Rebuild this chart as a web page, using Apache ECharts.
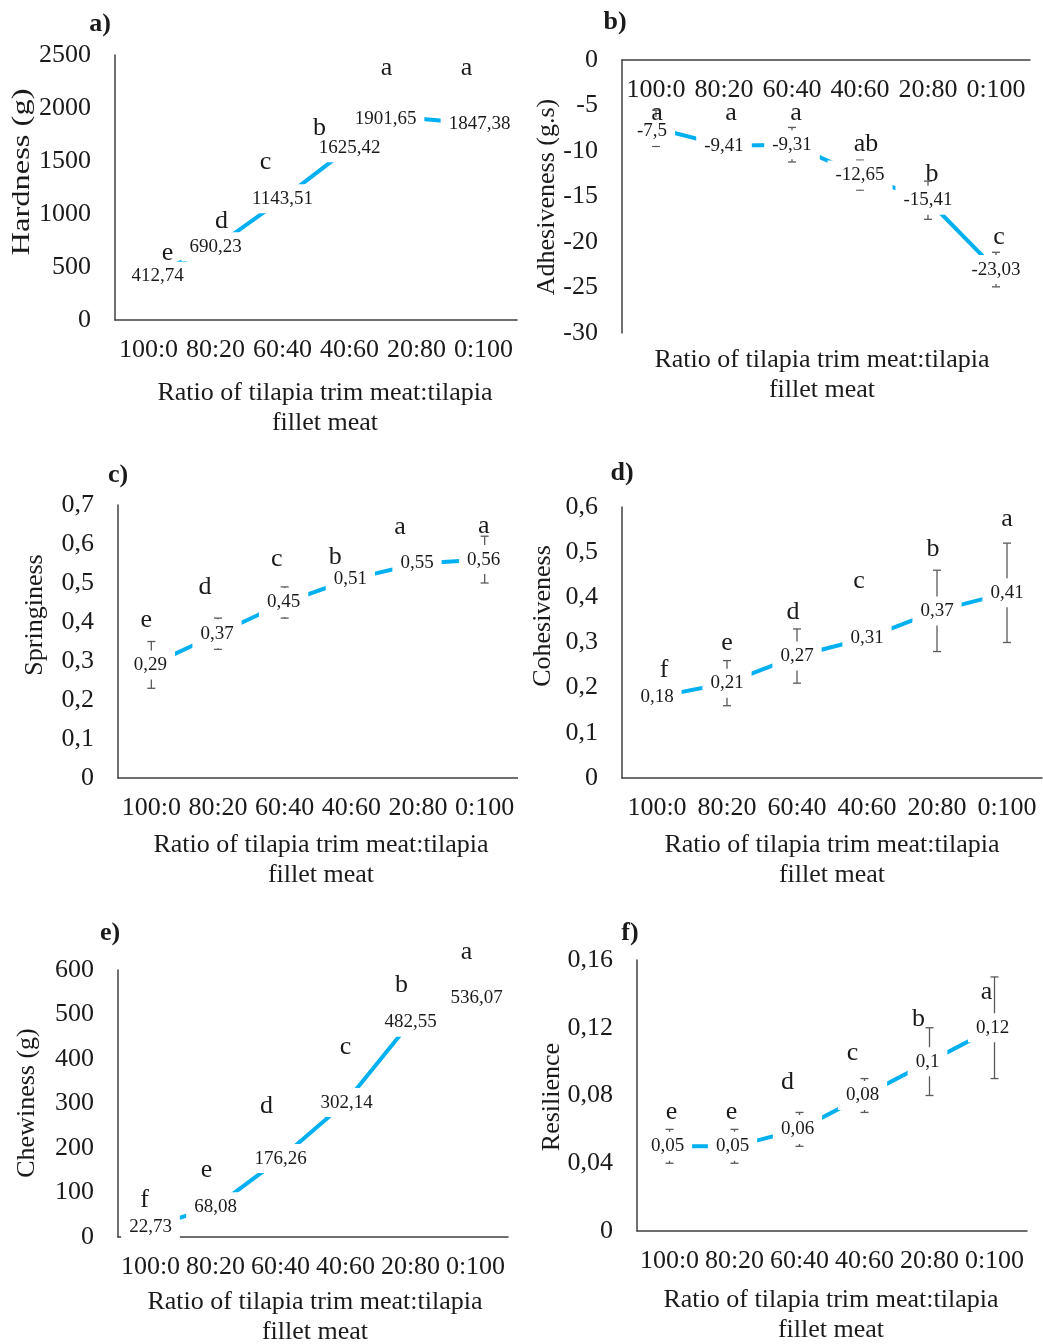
<!DOCTYPE html>
<html>
<head>
<meta charset="utf-8">
<script src="https://cdn.jsdelivr.net/npm/echarts/dist/echarts.min.js"></script>
<style>
  body { margin: 0; background: #fff; }
  .panel { position: absolute; overflow: hidden; }
</style>
</head>
<body>
<div id="pa" class="panel"></div>
<div id="pb" class="panel"></div>
<div id="pc" class="panel"></div>
<div id="pd" class="panel"></div>
<div id="pe" class="panel"></div>
<div id="pf" class="panel"></div>
<script>
const categories = ['100:0', '80:20', '60:40', '40:60', '20:80', '0:100'];

// a) hardness (g)
const hardness = [412.74, 690.23, 1143.51, 1625.42, 1901.65, 1847.38];
const hardnessSd = [0, 0, 0, 0, 45, 0];
const hardnessLetters = ['e', 'd', 'c', 'b', 'a', 'a'];
const hardnessTicks = [0, 500, 1000, 1500, 2000, 2500];

// b) adhesiveness (g.s)
const adhesiveness = [-7.5, -9.41, -9.31, -12.65, -15.41, -23.03];
const adhesivenessSd = [2.0, 0.6, 1.9, 1.65, 2.1, 1.9];
const adhesivenessLetters = ['a', 'a', 'a', 'ab', 'b', 'c'];
const adhesivenessTicks = [-30, -25, -20, -15, -10, -5, 0];

// c) springiness
const springiness = [0.29, 0.37, 0.45, 0.51, 0.55, 0.56];
const springinessSd = [0.06, 0.04, 0.04, 0.02, 0.02, 0.06];
const springinessLetters = ['e', 'd', 'c', 'b', 'a', 'a'];
const springinessTicks = [0, 0.1, 0.2, 0.3, 0.4, 0.5, 0.6, 0.7];

// d) cohesiveness
const cohesiveness = [0.18, 0.21, 0.27, 0.31, 0.37, 0.41];
const cohesivenessSd = [0.01, 0.05, 0.06, 0.01, 0.09, 0.11];
const cohesivenessLetters = ['f', 'e', 'd', 'c', 'b', 'a'];
const cohesivenessTicks = [0, 0.1, 0.2, 0.3, 0.4, 0.5, 0.6];

// e) chewiness (g)
const chewiness = [22.73, 68.08, 176.26, 302.14, 482.55, 536.07];
const chewinessSd = [0, 0, 0, 0, 0, 0];
const chewinessLetters = ['f', 'e', 'd', 'c', 'b', 'a'];
const chewinessTicks = [0, 100, 200, 300, 400, 500, 600];

// f) resilience
const resilience = [0.05, 0.05, 0.06, 0.08, 0.1, 0.12];
const resilienceSd = [0.01, 0.01, 0.01, 0.01, 0.02, 0.03];
const resilienceLetters = ['e', 'e', 'd', 'c', 'b', 'a'];
const resilienceTicks = [0, 0.04, 0.08, 0.12, 0.16];

const xTitle = 'Ratio of tilapia trim meat:tilapia\nfillet meat';

// layout (page pixels): box = clipping div, plot = [x0, y0, x1, y1] of the axes
const panels = [
  { id: 'pa', box: [0, 0, 520, 445], plot: [115, 55, 517, 320], xTop: false,
    title: 'a)', titlePos: [100, 24], yName: 'Hardness (g)', yNamePos: [22, 172], yNameScale: 1.25,
    xNamePos: [325, 393], values: hardness, sd: hardnessSd, letters: hardnessLetters, ticks: hardnessTicks,
    labelShift: [[9, 0], [0, 0], [0, 0], [0, 0], [-31, 1], [-4, 0]],
    letterShift: [[19, -23], [6, -26], [-17, -37], [-30, -20], [-30, -50], [-17, -56]] },
  { id: 'pb', box: [520, 0, 523, 445], plot: [622, 60, 1030, 333], xTop: true,
    title: 'b)', titlePos: [615, 22], yName: 'Adhesiveness (g.s)', yNamePos: [547, 197], yNameScale: 1,
    xNamePos: [822, 360], values: adhesiveness, sd: adhesivenessSd, letters: adhesivenessLetters, ticks: adhesivenessTicks,
    labelShift: [[-4, 3], [0, 0], [0, 0], [0, 0], [0, 0], [0, 0]],
    letterShift: [[1, -15], [7, -32], [4, -32], [6, -31], [4, -26], [3, -32]] },
  { id: 'pc', box: [0, 445, 518, 460], plot: [118, 505, 526, 778], xTop: false,
    title: 'c)', titlePos: [118, 475], yName: 'Springiness', yNamePos: [35, 615], yNameScale: 1,
    xNamePos: [321, 845], values: springiness, sd: springinessSd, letters: springinessLetters, ticks: springinessTicks,
    labelShift: [[-1, 0], [-1, 0], [-1, 0], [-1, 0], [-1, 0], [-1, 0]],
    letterShift: [[-5, -45], [-13, -47], [-8, -43], [-16, -22], [-18, -36], [-1, -33]] },
  { id: 'pd', box: [520, 445, 523, 460], plot: [622, 507, 1042, 778], xTop: false,
    title: 'd)', titlePos: [622, 473], yName: 'Cohesiveness', yNamePos: [543, 616], yNameScale: 1,
    xNamePos: [832, 845], values: cohesiveness, sd: cohesivenessSd, letters: cohesivenessLetters, ticks: cohesivenessTicks,
    labelShift: [[0, 0], [0, 0], [0, 0], [0, 0], [0, 0], [0, 0]],
    letterShift: [[7, -27], [0, -40], [-4, -44], [-8, -57], [-4, -62], [0, -74]] },
  { id: 'pe', box: [0, 905, 520, 439], plot: [118, 970, 508, 1237], xTop: false,
    title: 'e)', titlePos: [110, 933], yName: 'Chewiness (g)', yNamePos: [27, 1103], yNameScale: 1,
    xNamePos: [315, 1302], values: chewiness, sd: chewinessSd, letters: chewinessLetters, ticks: chewinessTicks,
    labelShift: [[0, 0], [0, 0], [0, 0], [1, 0], [0, 0], [1, 0]],
    letterShift: [[-6, -27], [-9, -37], [-14, -52], [0, -55], [-9, -37], [-9, -46]] },
  { id: 'pf', box: [520, 905, 523, 439], plot: [637, 960, 1027, 1231], xTop: false,
    title: 'f)', titlePos: [630, 933], yName: 'Resilience', yNamePos: [552, 1097], yNameScale: 1,
    xNamePos: [831, 1300], values: resilience, sd: resilienceSd, letters: resilienceLetters, ticks: resilienceTicks,
    labelShift: [[-2, 0], [-2, 0], [-2, 0], [-2, 0], [-2, 0], [-2, 0]],
    letterShift: [[2, -34], [-3, -34], [-12, -47], [-12, -42], [-11, -42], [-8, -36]] }
];

const FONT = '"Liberation Serif", "Times New Roman", serif';
const TEXT = '#1a1a1a';
const AXIS = '#404040';
const LINE = '#00B0F0';

// decimal comma like the original
const fmt = (v) => String(+v.toFixed(4)).replace('.', ',');

function drawPanel(p) {
  const [bx, by, bw, bh] = p.box;
  const dom = document.getElementById(p.id);
  dom.style.left = bx + 'px';
  dom.style.top = by + 'px';
  dom.style.width = bw + 'px';
  dom.style.height = bh + 'px';

  const chart = echarts.init(dom);
  const [x0, y0, x1, y1] = p.plot;
  const ticks = p.ticks;

  chart.setOption({
    animation: false,
    grid: { left: x0 - bx, top: y0 - by, width: x1 - x0, height: y1 - y0, containLabel: false },
    xAxis: {
      type: 'category',
      data: categories,
      boundaryGap: true,
      // b) has only negative values: axis sits on the zero line at the top, labels below it
      position: p.xTop ? 'top' : 'bottom',
      axisTick: { show: false },
      axisLine: { onZero: false, lineStyle: { color: AXIS, width: 1.5 } },
      axisLabel: { interval: 0, inside: p.xTop, margin: 17, color: TEXT, fontSize: 26, fontFamily: FONT }
    },
    yAxis: {
      type: 'value',
      min: ticks[0],
      max: ticks[ticks.length - 1],
      interval: ticks[1] - ticks[0],
      splitLine: { show: false },
      axisTick: { show: false },
      axisLine: { show: true, onZero: false, lineStyle: { color: AXIS, width: 1.5 } },
      axisLabel: { margin: 24, color: TEXT, fontSize: 26, fontFamily: FONT, formatter: fmt }
    },
    graphic: [
      { type: 'text', x: p.titlePos[0] - bx, y: p.titlePos[1] - by,
        style: { text: p.title, font: 'bold 26px ' + FONT, fill: TEXT, align: 'center', verticalAlign: 'middle' } },
      { type: 'text', x: p.yNamePos[0] - bx, y: p.yNamePos[1] - by, rotation: Math.PI / 2, scaleX: p.yNameScale,
        style: { text: p.yName, font: '26px ' + FONT, fill: TEXT, align: 'center', verticalAlign: 'middle' } },
      { type: 'text', x: p.xNamePos[0] - bx, y: p.xNamePos[1] - by - 15,
        style: { text: xTitle, font: '26px ' + FONT, fill: TEXT, align: 'center', verticalAlign: 'top', lineHeight: 30 } }
    ],
    series: [
      {
        type: 'line',
        data: p.values,
        symbol: 'none',
        lineStyle: { color: LINE, width: 4 },
        z: 2
      },
      {
        // error bars, white-boxed value labels and significance letters
        type: 'custom',
        z: 3,
        data: p.values.map((v, i) => [i, v, p.sd[i]]),
        renderItem: (params, api) => {
          const i = params.dataIndex;
          const v = api.value(1);
          const sd = api.value(2);
          const pt = api.coord([i, v]);
          const children = [];
          if (sd > 0) {
            const hi = api.coord([i, v + sd])[1];
            const lo = api.coord([i, v - sd])[1];
            const st = { stroke: '#5a5a5a', lineWidth: 1.3 };
            children.push(
              { type: 'line', shape: { x1: pt[0], y1: hi, x2: pt[0], y2: lo }, style: st },
              { type: 'line', shape: { x1: pt[0] - 4, y1: hi, x2: pt[0] + 4, y2: hi }, style: st },
              { type: 'line', shape: { x1: pt[0] - 4, y1: lo, x2: pt[0] + 4, y2: lo }, style: st }
            );
          }
          const ls = p.labelShift[i];
          children.push({
            type: 'text', x: pt[0] + ls[0], y: pt[1] + ls[1],
            style: { text: fmt(v), font: '19px ' + FONT, fill: TEXT, align: 'center', verticalAlign: 'middle',
                     backgroundColor: '#fff', padding: [5, 8] }
          });
          const ts = p.letterShift[i];
          children.push({
            type: 'text', x: pt[0] + ts[0], y: pt[1] + ts[1],
            style: { text: p.letters[i], font: '26px ' + FONT, fill: TEXT, align: 'center', verticalAlign: 'middle' }
          });
          return { type: 'group', children };
        }
      }
    ]
  });
}

panels.forEach(drawPanel);
</script>
</body>
</html>
